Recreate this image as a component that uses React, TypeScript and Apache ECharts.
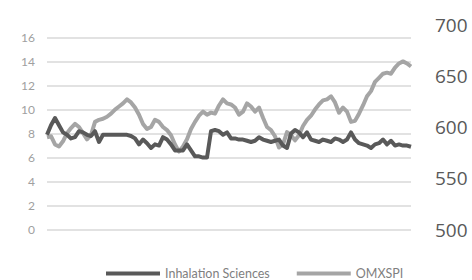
import React, { useEffect, useRef } from "react";
import * as echarts from "echarts";

const inhalation: number[] = [
  7.9, 8.7, 9.3, 8.7, 8.1, 7.9, 7.6, 7.7, 8.2, 8.1, 7.9, 7.8, 8.2, 7.3, 7.9, 7.9,
  7.9, 7.9, 7.9, 7.9, 7.9, 7.8, 7.6, 7.1, 7.5, 7.2, 6.8, 7.1, 7.0, 7.7, 7.5, 7.1,
  6.6, 6.6, 6.6, 7.1, 6.6, 6.1, 6.1, 6.0, 6.0, 8.2, 8.3, 8.2, 7.9, 8.1, 7.6, 7.6,
  7.5, 7.5, 7.4, 7.3, 7.4, 7.7, 7.5, 7.4, 7.3, 7.4, 7.5, 7.0, 6.8, 8.0, 8.3, 8.1,
  7.7, 8.1, 7.5, 7.4, 7.3, 7.5, 7.4, 7.3, 7.6, 7.5, 7.3, 7.5, 8.1, 7.5, 7.2, 7.1,
  7.0, 6.8, 7.1, 7.2, 7.5, 7.1, 7.4, 7.0, 7.1, 7.0, 7.0, 6.9,
];

const omxspi: number[] = [
  590, 591, 583, 581, 586, 594, 599, 603, 600, 594, 588, 592, 605, 607, 608, 610,
  613, 617, 620, 623, 627, 624, 619, 612, 603, 598, 600, 607, 605, 600, 597, 592,
  583, 576, 581, 588, 598, 605, 611, 615, 612, 614, 613, 621, 627, 623, 622, 619,
  612, 615, 623, 620, 615, 619, 609, 600, 597, 591, 580, 583, 595, 592, 587, 592,
  601, 607, 611, 617, 622, 626, 627, 630, 624, 614, 619, 615, 605, 606, 613, 621,
  630, 635, 644, 648, 652, 653, 652, 658, 662, 664, 662, 659,
];

const days: string[] = inhalation.map((_, i) => String(i + 1));

const seriesNames: string[] = ["Inhalation Sciences", "OMXSPI"];

export default function App() {
  const ref = useRef<HTMLDivElement>(null);
  useEffect(() => {
    if (!ref.current) return;
    const chart = echarts.init(ref.current, undefined, { renderer: "svg" });
    chart.setOption({
      animation: false,
      grid: { left: 47, right: 61, top: 24.5, bottom: 50.5 },
      legend: {
        left: 101,
        top: 262,
        icon: "rect",
        itemWidth: 54,
        itemHeight: 4,
        itemGap: 27,
        textStyle: { fontFamily: "Lato", fontSize: 12.5, color: "#7f7f7f" },
        data: seriesNames,
      },
      xAxis: {
        type: "category",
        data: days,
        boundaryGap: false,
        show: false,
      },
      yAxis: [
        {
          type: "value",
          min: 0,
          max: 17.1,
          interval: 2,
          axisLine: { show: false },
          axisTick: { show: false },
          axisLabel: {
            showMaxLabel: false,
            margin: 12,
            fontFamily: "Lato",
            fontSize: 12,
            color: "#a0a0a0",
          },
          splitLine: {
            showMaxLine: false,
            lineStyle: { color: "#d9d9d9", width: 1.5 },
          },
        },
        {
          type: "value",
          min: 500,
          max: 700,
          interval: 50,
          position: "right",
          axisLine: { show: false },
          axisTick: { show: false },
          splitLine: { show: false },
          axisLabel: {
            margin: 24,
            fontFamily: "Open Sans",
            fontSize: 19,
            color: "#595959",
          },
        },
      ],
      series: [
        {
          name: seriesNames[0],
          type: "line",
          yAxisIndex: 0,
          data: inhalation,
          showSymbol: false,
          symbol: "none",
          lineStyle: { color: "#595959", width: 4, join: "round" },
          itemStyle: { color: "#595959" },
          z: 3,
        },
        {
          name: seriesNames[1],
          type: "line",
          yAxisIndex: 1,
          data: omxspi,
          showSymbol: false,
          symbol: "none",
          lineStyle: { color: "#a5a5a5", width: 4, join: "round" },
          itemStyle: { color: "#a5a5a5" },
          z: 2,
        },
      ],
    });
    return () => chart.dispose();
  }, []);
  return <div ref={ref} style={{ width: 472, height: 280, position: "absolute", left: 0, top: 0 }} />;
}
